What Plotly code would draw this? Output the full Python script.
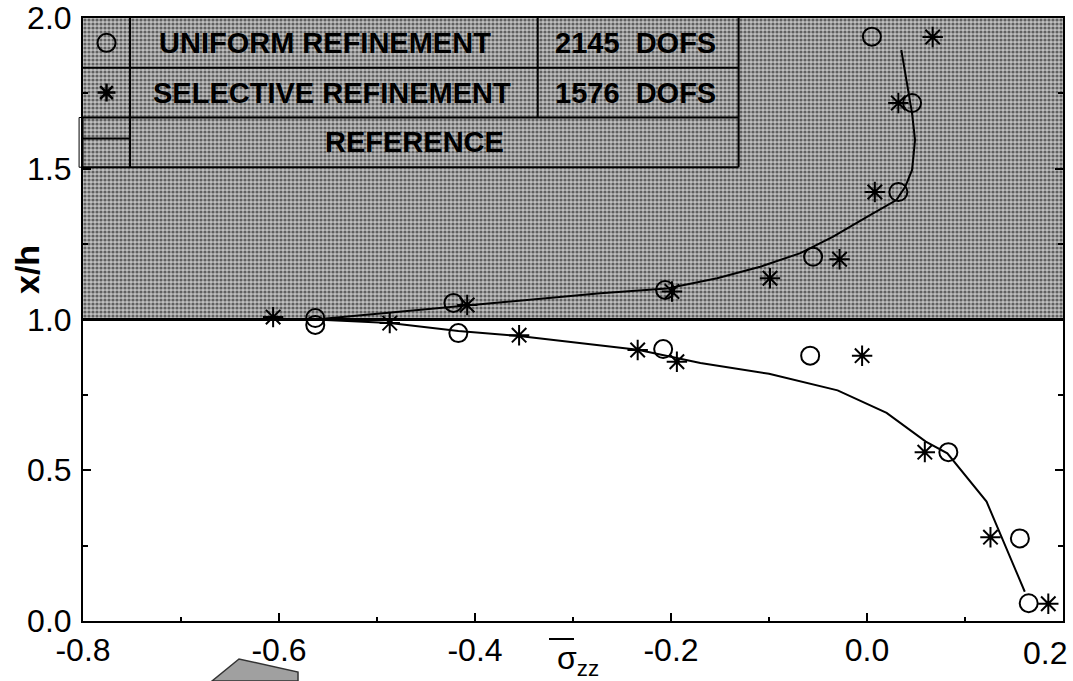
import plotly.graph_objects as go

# ---------------- data ----------------
x_range = [-0.8, 0.2]
y_range = [0.0, 2.0]
shade_y = [1.0, 2.0]  # shaded band (y from 1.0 to 2.0)

x_tickvals = [-0.8, -0.6, -0.4, -0.2, 0.0, 0.2]
x_ticktext = ["-0.8", "-0.6", "-0.4", "-0.2", "0.0", "0.2"]
y_tickvals = [0.0, 0.5, 1.0, 1.5, 2.0]
y_ticktext = ["0.0", "0.5", "1.0", "1.5", "2.0"]

uniform_x = [0.005, 0.046, 0.032, -0.055, -0.206, -0.422, -0.563, -0.563, -0.417, -0.208, -0.058, 0.083, 0.156, 0.165]
uniform_y = [1.938, 1.718, 1.423, 1.208, 1.098, 1.055, 1.005, 0.982, 0.955, 0.902, 0.880, 0.560, 0.274, 0.059]

selective_x = [0.067, 0.032, 0.008, -0.028, -0.099, -0.199, -0.408, -0.606, -0.487, -0.355, -0.234, -0.194, -0.005, 0.059, 0.126, 0.185]
selective_y = [1.937, 1.718, 1.423, 1.200, 1.137, 1.093, 1.048, 1.008, 0.988, 0.948, 0.899, 0.860, 0.880, 0.560, 0.278, 0.057]

reference_x = [0.035, 0.046, 0.049, 0.046, 0.039, 0.030, 0.000, -0.035, -0.068, -0.109, -0.153, -0.204, -0.272,
               -0.425, -0.563, -0.487, -0.417, -0.355, -0.234, -0.170, -0.100, -0.030, 0.020, 0.060, 0.082, 0.122, 0.161]
reference_y = [1.894, 1.684, 1.595, 1.496, 1.440, 1.396, 1.340, 1.274, 1.220, 1.175, 1.137, 1.103, 1.087,
               1.040, 1.000, 0.988, 0.962, 0.945, 0.900, 0.856, 0.820, 0.765, 0.690, 0.595, 0.556, 0.396, 0.097]

legend_rows = ["UNIFORM REFINEMENT", "SELECTIVE REFINEMENT", "REFERENCE"]
legend_dofs = ["2145  DOFS", "1576  DOFS"]

# ---------------- layout constants ----------------
W, H = 1073, 681
ML, MR, MT, MB = 83, 10, 18, 60
FONT = "Liberation Sans, Arial, Helvetica, sans-serif"

# legend table geometry (data coordinates)
tab_rows_y = [2.0, 1.835, 1.67, 1.505]
tab_col_x = [-0.8, -0.752, -0.336, -0.131]

fig = go.Figure()

# shaded (halftone) band
fig.add_trace(go.Scatter(
    x=[x_range[0], x_range[1], x_range[1], x_range[0], x_range[0]],
    y=[shade_y[0], shade_y[0], shade_y[1], shade_y[1], shade_y[0]],
    mode="lines", fill="toself", line=dict(width=0),
    fillcolor="rgba(0,0,0,0)",
    fillpattern=dict(shape=".", size=4, solidity=0.5, fgcolor="#000000", bgcolor="#c0c0c0"),
    hoverinfo="skip", showlegend=False))

# reference curve
fig.add_trace(go.Scatter(x=reference_x, y=reference_y, mode="lines",
                         line=dict(color="black", width=2), showlegend=False))
# uniform refinement
fig.add_trace(go.Scatter(x=uniform_x, y=uniform_y, mode="markers",
                         marker=dict(symbol="circle-open", size=18, color="black", line=dict(width=2)),
                         showlegend=False))
# selective refinement
fig.add_trace(go.Scatter(x=selective_x, y=selective_y, mode="markers",
                         marker=dict(symbol="asterisk-open", size=17, color="black", line=dict(width=2)),
                         showlegend=False))

# legend symbols inside the table
sym_x = (tab_col_x[0] + tab_col_x[1]) / 2
fig.add_trace(go.Scatter(x=[sym_x], y=[(tab_rows_y[0] + tab_rows_y[1]) / 2], mode="markers",
                         marker=dict(symbol="circle-open", size=18, color="black", line=dict(width=2)),
                         showlegend=False))
fig.add_trace(go.Scatter(x=[sym_x], y=[(tab_rows_y[1] + tab_rows_y[2]) / 2], mode="markers",
                         marker=dict(symbol="asterisk-open", size=15, color="black", line=dict(width=2.5)),
                         showlegend=False))

shapes = []
lw = 2
# boundary at y = 1.0
shapes.append(dict(type="line", xref="x", yref="y", x0=x_range[0], x1=x_range[1], y0=shade_y[0], y1=shade_y[0],
                   line=dict(color="black", width=3)))
# table horizontal lines
for yy in tab_rows_y[1:]:
    shapes.append(dict(type="line", xref="x", yref="y", x0=tab_col_x[0] - 0.004, x1=tab_col_x[3], y0=yy, y1=yy,
                       line=dict(color="black", width=lw)))
# table right edge
shapes.append(dict(type="line", xref="x", yref="y", x0=tab_col_x[3], x1=tab_col_x[3], y0=tab_rows_y[0], y1=tab_rows_y[3],
                   line=dict(color="black", width=lw)))
# symbol column divider
shapes.append(dict(type="line", xref="x", yref="y", x0=tab_col_x[1], x1=tab_col_x[1], y0=tab_rows_y[0], y1=tab_rows_y[3],
                   line=dict(color="black", width=lw)))
# dofs divider (first two rows)
shapes.append(dict(type="line", xref="x", yref="y", x0=tab_col_x[2], x1=tab_col_x[2], y0=tab_rows_y[0], y1=tab_rows_y[2],
                   line=dict(color="black", width=lw)))
# small overhang of third row on the left
shapes.append(dict(type="rect", xref="paper", yref="y", x0=-0.004, x1=0.0, y0=tab_rows_y[3], y1=tab_rows_y[2],
                   line=dict(color="black", width=1), fillcolor="rgba(0,0,0,0)"))
# reference symbol line in legend
yline = tab_rows_y[2] - (tab_rows_y[2] - tab_rows_y[3]) * 0.42
shapes.append(dict(type="line", xref="x", yref="y", x0=tab_col_x[0] - 0.004, x1=tab_col_x[1], y0=yline, y1=yline,
                   line=dict(color="black", width=2)))


def px2paper_x(px):
    return (px - ML) / (W - ML - MR)


def px2paper_y(py):
    return (H - MB - py) / (H - MT - MB)


# overline on sigma (axis title)
shapes.append(dict(type="line", xref="paper", yref="paper",
                   x0=px2paper_x(549), x1=px2paper_x(574), y0=px2paper_y(639), y1=px2paper_y(639),
                   line=dict(color="black", width=2)))
# scan artifact below the axis
shapes.append(dict(type="path", xref="paper", yref="paper",
                   path="M {:.4f},{:.4f} L {:.4f},{:.4f} L {:.4f},{:.4f} L {:.4f},{:.4f} Z".format(
                       px2paper_x(212), px2paper_y(681), px2paper_x(239), px2paper_y(659),
                       px2paper_x(298), px2paper_y(672), px2paper_x(298), px2paper_y(681)),
                   line=dict(color="#333333", width=1.5), fillcolor="#a0a0a0"))

annotations = []
tfont = dict(family=FONT, size=29, color="black")
row_c = [(tab_rows_y[i] + tab_rows_y[i + 1]) / 2 for i in range(3)]


def ann(x, y, text, font, xref="x", yref="y", **kw):
    d = dict(x=x, y=y, xref=xref, yref=yref, text=text, showarrow=False, font=font,
             xanchor="center", yanchor="middle")
    d.update(kw)
    return d


annotations.append(ann(-0.553, row_c[0], "<b>" + legend_rows[0] + "</b>", tfont))
annotations.append(ann(-0.546, row_c[1], "<b>" + legend_rows[1] + "</b>", tfont))
annotations.append(ann(-0.462, row_c[2], "<b>" + legend_rows[2] + "</b>", tfont))
annotations.append(ann(-0.236, row_c[0], "<b>" + legend_dofs[0] + "</b>", tfont))
annotations.append(ann(-0.236, row_c[1], "<b>" + legend_dofs[1] + "</b>", tfont))
# y title
annotations.append(ann(px2paper_x(27), px2paper_y(270), "<b>x/h</b>",
                       dict(family=FONT, size=34, color="black"), xref="paper", yref="paper", textangle=-90))
# x title
annotations.append(ann(px2paper_x(578), px2paper_y(660), "σ<sub>zz</sub>",
                       dict(family=FONT, size=32, color="black"), xref="paper", yref="paper"))

tick_font = dict(family=FONT, size=32, color="black")
# last x tick label sits flush with the right edge of the page
last_lab = x_ticktext[-1]
x_ticktext_axis = x_ticktext[:-1] + [""]
annotations.append(dict(x=x_tickvals[-1], y=0, xref="x", yref="paper", text=last_lab, showarrow=False,
                        font=tick_font, xanchor="right", yanchor="top", xshift=6, yshift=-12))

axis_common = dict(showgrid=False, zeroline=False, showline=True, linecolor="black", linewidth=2,
                   ticks="inside", tickcolor="black", tickwidth=2, ticklen=8, tickfont=tick_font)

fig.update_layout(
    width=W, height=H,
    margin=dict(l=ML, r=MR, t=MT, b=MB, autoexpand=False),
    paper_bgcolor="white", plot_bgcolor="white",
    showlegend=False,
    shapes=shapes, annotations=annotations,
    xaxis=dict(range=[x_range[0] - 1e-6, x_range[1] + 1e-6], tickvals=x_tickvals, ticktext=x_ticktext_axis,
               mirror=True, automargin=False,
               minor=dict(dtick=0.1, ticks="inside", ticklen=4, tickcolor="black", tickwidth=1.5),
               ticklabelstandoff=0, **axis_common),
    yaxis=dict(range=[y_range[0] - 1e-6, y_range[1] + 1e-6], tickvals=y_tickvals, ticktext=y_ticktext,
               mirror="ticks", automargin=False,
               minor=dict(dtick=0.25, ticks="inside", ticklen=5, tickcolor="black", tickwidth=1.5),
               ticklabelstandoff=3, **axis_common),
)

fig.write_html("out.html")
